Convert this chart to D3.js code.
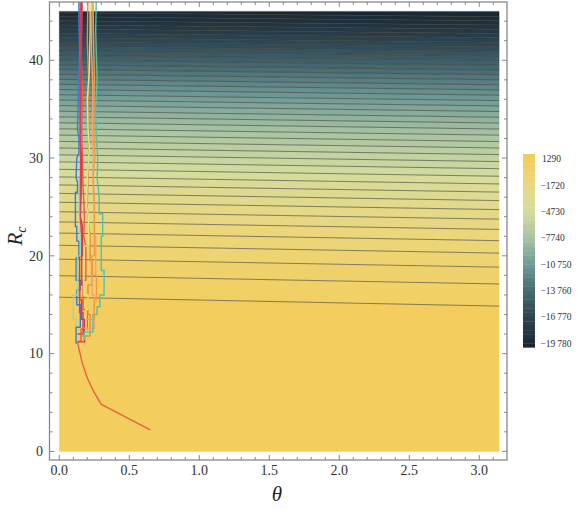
<!DOCTYPE html>
<html><head><meta charset="utf-8">
<script src="https://cdn.jsdelivr.net/npm/d3@7"></script>
<style>
html,body{margin:0;padding:0;background:#fff;}
svg{display:block;font-family:"Liberation Serif","DejaVu Serif",serif;}
</style></head>
<body><svg id="chart" width="581" height="512"></svg>
<script>
// ---- data ----
const contourLevels = [788,287,-215,-717,-1218,-1720,-2222,-2723,-3225,-3727,-4228,-4730,-5232,-5733,-6235,-6737,-7238,-7740,-8242,-8743,-9245,-9747,-10248,-10750,-11252,-11753,-12255,-12757,-13258,-13760,-14262,-14763,-15265,-15767,-16268,-16770,-17272,-17773,-18275,-18777,-19278,-19780];
const contourRLeft = [15.77,17.97,19.66,21.08,22.33,23.47,24.51,25.48,26.39,27.25,28.07,28.85,29.61,30.33,31.03,31.70,32.35,32.99,33.61,34.21,34.79,35.37,35.93,36.47,37.01,37.54,38.05,38.56,39.06,39.54,40.02,40.50,40.96,41.42,41.87,42.32,42.76,43.19,43.62,44.04,44.46,44.87];
const contourRRight = [14.86,17.12,18.84,20.28,21.55,22.70,23.75,24.73,25.65,26.52,27.35,28.14,28.91,29.64,30.35,31.03,31.69,32.34,32.97,33.58,34.17,34.76,35.33,35.88,36.43,36.97,37.49,38.01,38.52,39.01,39.50,39.99,40.46,40.93,41.39,41.85,42.30,42.74,43.18,43.61,44.04,44.46];
const legendTicks = [1290,-1720,-4730,-7740,-10750,-13760,-16770,-19780];
const colorStopValues = [1862,1290,-1720,-4730,-7740,-10750,-13760,-16770,-19780,-20240];
const colorStopColors = ["#f4cb56","#f3cd5d","#ead77f","#d5dc9e","#a8c3a3","#719b97","#466a73","#2c4451","#1b2a37","#182632"];
const xTicks = [0,0.5,1.0,1.5,2.0,2.5,3.0];
const yTicks = [0,10,20,30,40];

const trajectories = [
 {color:"#3b7ccf", theta:[0.12,0.12,0.15,0.15,0.125,0.125,0.15,0.15,0.12,0.12,0.14,0.14,0.125,0.125,0.115,0.115,0.13,0.13,0.12,0.125,0.14,0.14,0.13,0.135,0.14,0.145,0.14,0.14],
                   r:[11.0,12.7,12.7,15.0,15.0,16.5,16.5,17.5,17.5,19.8,19.8,21.5,21.5,23.0,23.0,26.5,26.5,27.5,28.0,30.0,30.5,32.0,33.0,36.0,38.0,41.0,44.0,47.0]},
 {color:"#e8603c", theta:[0.65,0.30,0.25,0.20,0.165,0.14,0.13,0.155,0.155,0.20,0.20,0.17,0.17,0.19,0.19,0.175,0.18,0.17,0.165,0.16,0.165,0.155,0.16,0.165],
                   r:[2.2,4.8,6.0,7.5,9.0,10.5,11.2,11.3,12.5,12.5,14.5,14.5,17.5,17.5,21.0,22.0,24.0,27.0,30.0,33.0,37.0,41.0,44.0,47.0]},
 {color:"#d8364e", theta:[0.135,0.18,0.18,0.16,0.16,0.145,0.145,0.165,0.165,0.15,0.155,0.16,0.15,0.15,0.155,0.16,0.16],
                   r:[11.2,11.2,13.5,13.5,15.5,15.5,20.0,20.0,23.0,24.0,26.0,30.0,31.5,34.0,38.0,43.0,47.0]},
 {color:"#f5853f", theta:[0.16,0.22,0.22,0.205,0.205,0.235,0.235,0.22,0.22,0.20,0.205,0.21,0.215,0.205,0.21,0.20,0.205],
                   r:[11.8,11.8,14.0,14.0,17.0,17.0,19.5,19.5,22.0,25.0,28.0,30.0,33.0,35.0,38.0,42.0,47.0]},
 {color:"#e2e57c", theta:[0.15,0.19,0.19,0.205,0.205,0.175,0.175,0.21,0.21,0.195,0.20,0.215,0.205,0.20,0.215,0.22,0.22],
                   r:[12.0,12.0,14.5,14.5,16.0,16.0,21.0,21.0,24.0,25.0,28.0,31.0,33.0,36.0,39.0,43.0,47.0]},
 {color:"#f4a26c", theta:[0.17,0.25,0.25,0.235,0.235,0.26,0.26,0.25,0.25,0.24,0.245,0.235,0.24,0.23,0.235],
                   r:[12.6,12.6,16.0,16.0,18.0,18.0,22.0,22.0,26.0,28.0,30.0,33.0,37.0,41.0,47.0]},
 {color:"#52c3a7", theta:[0.18,0.18,0.24,0.24,0.27,0.27,0.29,0.29,0.32,0.32,0.3,0.3,0.31,0.31,0.285,0.285,0.27,0.275,0.265,0.26,0.27,0.26,0.265],
                   r:[11.4,12.2,12.2,14.0,14.0,14.8,14.8,16.0,16.0,18.5,18.5,22.0,22.0,24.3,24.3,26.0,28.0,30.0,32.0,35.0,38.0,43.0,47.0]},
 {color:"#9bd8b2", theta:[0.12,0.12,0.10,0.10,0.13,0.13,0.15,0.15,0.14,0.145],
                   r:[12.8,13.5,13.5,16.0,16.0,20.0,20.0,23.0,25.0,28.0]},
 {color:"#f99b3c", theta:[0.19,0.25,0.25,0.265,0.265,0.23,0.23,0.25,0.25,0.24,0.255,0.245,0.25,0.245,0.24],
                   r:[13.5,13.5,15.5,15.5,18.0,18.0,20.0,20.0,25.0,28.0,30.0,34.0,38.0,42.0,47.0]},
 {color:"#e03d5d", theta:[0.13,0.17,0.17,0.145,0.145,0.16,0.16,0.15,0.152,0.148,0.15],
                   r:[12.0,12.0,14.2,14.2,17.0,17.0,22.0,24.0,30.0,36.0,47.0]}
];

// ---- chart ----
const svg = d3.select("#chart");
const x = d3.scaleLinear().domain([-0.07, 3.198]).range([49.5, 507]);
const y = d3.scaleLinear().domain([-0.88, 45.96]).range([460, 2]);
const color = d3.scaleLinear().domain(colorStopValues).range(colorStopColors).interpolate(d3.interpolateRgb).clamp(true);

svg.append("defs").append("clipPath").attr("id","clip")
  .append("rect").attr("x",49.5).attr("y",2).attr("width",507-49.5).attr("height",458);

const thetaMax = Math.PI;
// bands
const bandArea = d3.area().x(d=>x(d.t)).y0(d=>y(d.lo)).y1(d=>y(d.hi));
const bands = [];
for (let i = 0; i <= contourLevels.length; i++) {
  const loL = i === 0 ? 0 : contourRLeft[i-1];
  const loR = i === 0 ? 0 : contourRRight[i-1];
  const hiL = i === contourLevels.length ? 45 : contourRLeft[i];
  const hiR = i === contourLevels.length ? 45 : contourRRight[i];
  const v = i === 0 ? 1290 : contourLevels[i-1] - 250.8;
  bands.push({v, pts:[{t:0,lo:loL,hi:hiL},{t:thetaMax,lo:loR,hi:hiR}]});
}
const g = svg.append("g").attr("clip-path","url(#clip)");
g.selectAll("path.band").data(bands).join("path").attr("class","band")
  .attr("d", d=>bandArea(d.pts)).attr("fill", d=>color(d.v))
  .attr("stroke", d=>color(d.v)).attr("stroke-width",0.4);

// contour lines
const line = d3.line().x(d=>x(d.t)).y(d=>y(d.r));
g.selectAll("path.contour").data(contourLevels.map((v,i)=>[{t:0,r:contourRLeft[i]},{t:thetaMax,r:contourRRight[i]}]))
  .join("path").attr("class","contour").attr("d", line)
  .attr("fill","none").attr("stroke","#45453c").attr("stroke-opacity",0.7).attr("stroke-width",0.9);

// trajectories
g.selectAll("path.traj").data(trajectories).join("path").attr("class","traj")
  .attr("d", d=>line(d.theta.map((t,k)=>({t, r:d.r[k]}))))
  .attr("fill","none").attr("stroke", d=>d.color).attr("stroke-width",1.4).attr("stroke-linejoin","round");

// frame
svg.append("rect").attr("x",49.5).attr("y",2).attr("width",457.5).attr("height",458)
  .attr("fill","none").attr("stroke","#888").attr("stroke-width",1.3);

// ticks
const tk = svg.append("g").attr("stroke","#888").attr("stroke-width",1);
const xMinor = d3.range(0, 32).map(i=>i/10);
const yMinor = d3.range(0, 46, 2);
xMinor.forEach(t=>{
  const major = xTicks.some(m=>Math.abs(m-t)<1e-9);
  const L = major ? 5 : 3;
  tk.append("line").attr("x1",x(t)).attr("x2",x(t)).attr("y1",460).attr("y2",460-L);
  tk.append("line").attr("x1",x(t)).attr("x2",x(t)).attr("y1",2).attr("y2",2+L);
});
yMinor.forEach(r=>{
  const major = yTicks.includes(r);
  const L = major ? 5 : 3;
  tk.append("line").attr("y1",y(r)).attr("y2",y(r)).attr("x1",49.5).attr("x2",49.5+L);
  tk.append("line").attr("y1",y(r)).attr("y2",y(r)).attr("x1",507).attr("x2",507-L);
});

svg.selectAll("text.xt").data(xTicks).join("text").attr("class","xt")
  .attr("x", d=>x(d)).attr("y", 475).attr("text-anchor","middle")
  .attr("font-size",14).attr("fill","#333").text(d=>d.toFixed(1));
svg.selectAll("text.yt").data(yTicks).join("text").attr("class","yt")
  .attr("x", 43).attr("y", d=>y(d)+4.8).attr("text-anchor","end")
  .attr("font-size",14).attr("fill","#333").text(d=>d);

// axis titles
svg.append("text").attr("x",277).attr("y",501).attr("text-anchor","middle")
  .attr("font-size",21).attr("font-style","italic").attr("fill","#222").text("θ");
const yt = svg.append("text").attr("transform","translate(22,236) rotate(-90)").attr("text-anchor","middle")
  .attr("font-size",21).attr("font-style","italic").attr("fill","#222");
yt.append("tspan").text("R");
yt.append("tspan").attr("font-size",14).attr("dy",4).text("c");

// colorbar
const cb = d3.scaleLinear().domain([1290,-19780]).range([159,343.3]);
const cbg = svg.append("g");
const bandEdges = [1862, 1290].concat(contourLevels).concat([-20240]);
const cbBands = [];
for (let i = 0; i < bandEdges.length-1; i++) {
  const a = bandEdges[i], b = bandEdges[i+1];
  cbBands.push({a, b, v:(a+b)/2});
}
cbg.selectAll("rect").data(cbBands).join("rect")
  .attr("x",523).attr("width",12)
  .attr("y", d=>cb(d.a)).attr("height", d=>cb(d.b)-cb(d.a)+0.3)
  .attr("fill", d=>color(d.v));
const fmt = v => { const s = Math.abs(v).toString(); const body = s.length>4 ? s.slice(0,s.length-3)+"\u2009"+s.slice(-3) : s; return (v<0?"\u2212":"")+body; };
svg.selectAll("text.cbt").data(legendTicks).join("text").attr("class","cbt")
  .attr("x", d=> d<0 ? 540.5 : 542).attr("y", d=>cb(d)+3.3)
  .attr("font-size",9.5).attr("fill","#333").text(fmt);
</script></body></html>
